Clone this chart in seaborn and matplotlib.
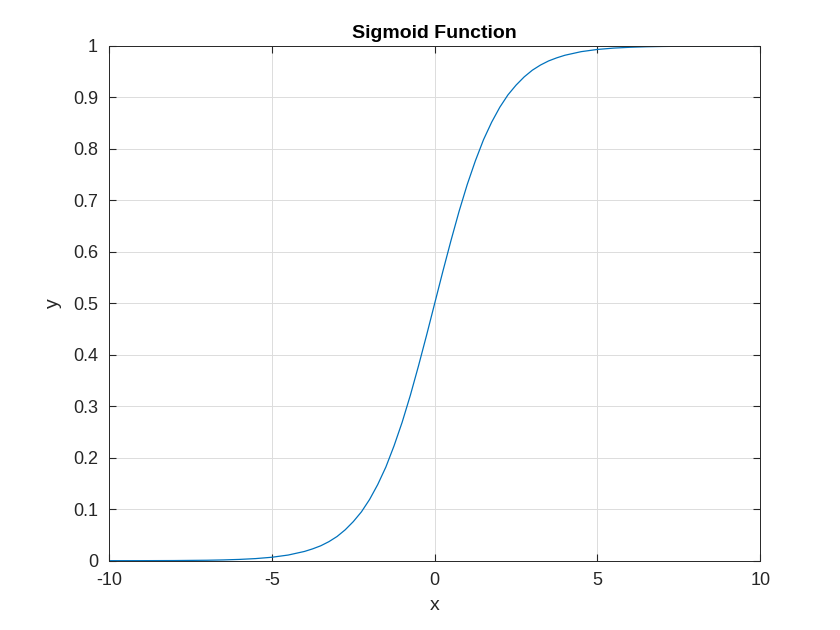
import matplotlib
matplotlib.use("Agg")
import matplotlib.pyplot as plt
import seaborn as sns
import pandas as pd

x_vals = [-10, -9, -8, -7, -6.5, -6, -5.5, -5, -4.5, -4, -3.75, -3.5, -3.25, -3, -2.75, -2.5, -2.25, -2, -1.75,
          -1.5, -1.25, -1, -0.75, -0.5, -0.25, 0, 0.25, 0.5, 0.75, 1, 1.25, 1.5, 1.75, 2, 2.25, 2.5, 2.75,
          3, 3.25, 3.5, 3.75, 4, 4.5, 5, 5.5, 6, 6.5, 7, 8, 9, 10]
y_vals = [0.00005, 0.0001, 0.0003, 0.0009, 0.0015, 0.0025, 0.0041, 0.0067, 0.011, 0.018, 0.023, 0.029,
          0.037, 0.047, 0.060, 0.076, 0.095, 0.119, 0.148, 0.182, 0.223, 0.269, 0.321, 0.378, 0.438,
          0.5, 0.562, 0.622, 0.679, 0.731, 0.777, 0.818, 0.852, 0.881, 0.905, 0.924, 0.940, 0.953, 0.963,
          0.971, 0.977, 0.982, 0.989, 0.9933, 0.9959, 0.9975, 0.9985, 0.9991, 0.9997, 0.9999, 0.99995]
x_ticks = [-10, -5, 0, 5, 10]
y_ticks = [0, 0.1, 0.2, 0.3, 0.4, 0.5, 0.6, 0.7, 0.8, 0.9, 1]
y_tick_labels = ["0", "0.1", "0.2", "0.3", "0.4", "0.5", "0.6", "0.7", "0.8", "0.9", "1"]

sns.set_style("white")
plt.rcParams['font.family'] = ['Arial', 'Liberation Sans', 'DejaVu Sans']
df = pd.DataFrame({"x": x_vals, "y": y_vals})
fig = plt.figure(figsize=(8.4, 6.3), dpi=100)
ax = fig.add_axes([0.130, 0.110, 0.775, 0.817])
sns.lineplot(data=df, x="x", y="y", ax=ax, color="#0072BD", linewidth=0.9)
ax.set_xlim(-10, 10)
ax.set_ylim(0, 1)
ax.set_xticks(x_ticks)
ax.set_xticklabels([str(t) for t in x_ticks])
ax.set_yticks(y_ticks)
ax.set_yticklabels(y_tick_labels)
ax.grid(True, color="#dcdcdc", linewidth=0.7)
for s in ax.spines.values():
    s.set_color("#262626"); s.set_linewidth(0.7); s.set_visible(True)
ax.tick_params(direction="in", length=5, labelsize=13, colors="#262626", top=True, right=True,
               bottom=True, left=True, labeltop=False, labelright=False, pad=8)
ax.set_xlabel("x", fontsize=14, color="#262626", labelpad=6)
ax.set_ylabel("y", fontsize=14, color="#262626", labelpad=8)
ax.set_title("Sigmoid Function", fontsize=14, fontweight="bold", color="black")
fig.savefig("out.png", dpi=100)
